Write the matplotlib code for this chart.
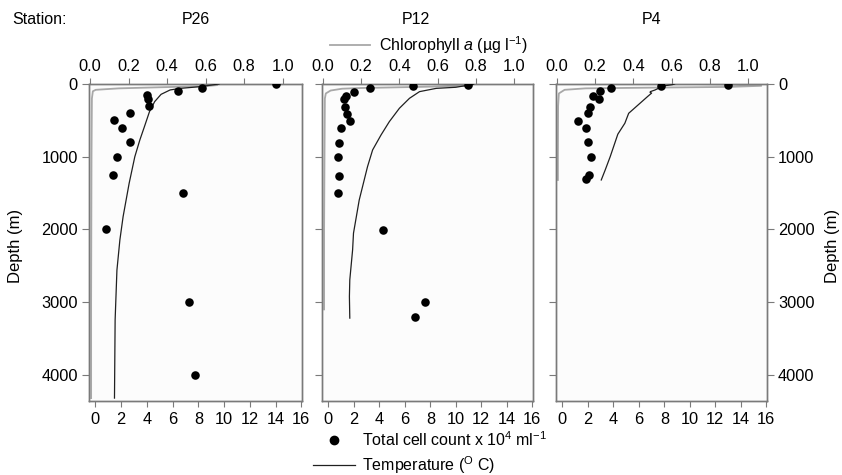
import matplotlib
matplotlib.use("Agg")
import matplotlib.pyplot as plt
from matplotlib.lines import Line2D

plt.rcParams['font.family'] = ['Liberation Sans', 'DejaVu Sans']
plt.rcParams['mathtext.fontset'] = 'custom'
plt.rcParams['mathtext.rm'] = 'Liberation Sans'
plt.rcParams['mathtext.it'] = 'Liberation Sans:italic'
plt.rcParams['font.size'] = 11.5

stations = ["P26", "P12", "P4"]

# ---- P26 ----
p26_cell_depth = [0, 50, 100, 150, 200, 300, 400, 500, 600, 800, 1000, 1250, 1500, 2000, 3000, 4000]
p26_cell = [14.05, 8.3, 6.45, 4.0, 4.08, 4.2, 2.67, 1.45, 2.07, 2.67, 1.64, 1.37, 6.83, 0.83, 7.27, 7.76]
p26_temp_depth = [0, 5, 37, 60, 82, 142, 243, 380, 590, 770, 1000, 1365, 1824, 2144, 2560, 3245, 4320]
p26_temp = [9.6, 9.4, 8.1, 6.6, 5.8, 5.1, 4.6, 4.2, 3.8, 3.45, 3.06, 2.62, 2.15, 1.9, 1.67, 1.53, 1.48]
p26_chl_depth = [0, 15, 30, 45, 60, 80, 100, 200, 1000, 2000, 3000, 4320]
p26_chl = [0.6, 0.66, 0.6, 0.36, 0.15, 0.03, 0.015, 0.01, 0.008, 0.007, 0.006, 0.006]

# ---- P12 ----
p12_cell_depth = [20, 25, 55, 105, 160, 205, 310, 410, 510, 610, 815, 1010, 1260, 1500, 2005, 3005, 3205]
p12_cell = [10.95, 6.67, 3.29, 2.02, 1.37, 1.24, 1.29, 1.5, 1.68, 0.97, 0.84, 0.76, 0.84, 0.79, 4.26, 7.6, 6.8]
p12_temp_depth = [0, 5, 45, 60, 105, 197, 334, 518, 701, 907, 1137, 1595, 2052, 2282, 2694, 2923, 3220]
p12_temp = [11.4, 11.35, 10.0, 8.46, 7.15, 6.36, 5.57, 4.78, 4.13, 3.47, 3.07, 2.42, 1.97, 1.9, 1.68, 1.65, 1.68]
p12_chl_depth = [0, 10, 25, 40, 55, 65, 90, 130, 200, 1000, 2000, 3100]
p12_chl = [0.55, 0.7, 0.78, 0.5, 0.2, 0.1, 0.04, 0.015, 0.01, 0.008, 0.006, 0.006]

# ---- P4 ----
p4_cell_depth = [10, 25, 60, 100, 160, 205, 310, 405, 505, 600, 800, 1000, 1250, 1300]
p4_cell = [13.0, 7.71, 3.83, 2.92, 2.37, 2.89, 2.13, 1.98, 1.2, 1.88, 1.98, 2.27, 2.11, 1.88]
p4_temp_depth = [0, 10, 23, 60, 82, 105, 115, 125, 170, 243, 403, 540, 690, 1000, 1182, 1320]
p4_temp = [8.8, 8.6, 8.05, 7.53, 7.27, 6.9, 6.88, 7.0, 6.7, 6.23, 5.2, 4.9, 4.35, 3.75, 3.36, 3.05]
p4_chl_depth = [0, 10, 25, 40, 50, 60, 80, 130, 300, 1000, 1320]
p4_chl = [0.7, 0.95, 1.07, 0.9, 0.5, 0.15, 0.04, 0.01, 0.006, 0.005, 0.005]

data = [
    (p26_cell_depth, p26_cell, p26_temp_depth, p26_temp, p26_chl_depth, p26_chl),
    (p12_cell_depth, p12_cell, p12_temp_depth, p12_temp, p12_chl_depth, p12_chl),
    (p4_cell_depth, p4_cell, p4_temp_depth, p4_temp, p4_chl_depth, p4_chl),
]

bottom_ticks = [0, 2, 4, 6, 8, 10, 12, 14, 16]
top_ticks = [0.0, 0.2, 0.4, 0.6, 0.8, 1.0]
depth_ticks = [0, 1000, 2000, 3000, 4000]

W, H = 842, 475
fig = plt.figure(figsize=(W / 100, H / 100), dpi=100)

lefts = [89, 322, 556]
widths = [213, 211, 211]
top_px, bot_px = 84, 401
spine_col = '#7a7a7a'
chl_col = '#a8a8a8'
temp_col = '#202020'
TS = 11.8

for i, (cd, cv, td, tv, chd, chv) in enumerate(data):
    ax = fig.add_axes([lefts[i] / W, 1 - bot_px / H, widths[i] / W, (bot_px - top_px) / H])
    ax.set_ylim(4360, 0)
    ax.set_xlim(-0.5, 16.05)
    ax.set_xticks(bottom_ticks)
    ax.set_yticks(depth_ticks)
    for s in ax.spines.values():
        s.set_color(spine_col)
        s.set_linewidth(1.0)

    ax2 = ax.twiny()
    ax2.set_xlim(-0.005, 1.1)
    ax2.set_xticks(top_ticks)
    ax2.set_xticklabels([f"{t:.1f}" for t in top_ticks])
    for s in ax2.spines.values():
        s.set_color(spine_col)
        s.set_linewidth(1.0)

    ax2.plot(chv, chd, color=chl_col, lw=1.3, zorder=2)
    ax.plot(tv, td, color=temp_col, lw=0.9, zorder=3)
    ax.scatter(cv, cd, s=38, color='black', zorder=4, linewidths=0)
    ax.set_zorder(ax2.get_zorder() + 1)
    ax.patch.set_visible(False)
    ax2.patch.set_visible(True)
    ax2.patch.set_facecolor('#fcfcfc')

    ax.tick_params(axis='x', direction='out', length=4, color=spine_col, pad=4, labelsize=TS)
    ax2.tick_params(axis='x', direction='out', length=4, color=spine_col, pad=3, labelsize=TS)
    ax.tick_params(axis='y', direction='out', length=5, color=spine_col, labelsize=TS, pad=3)
    if i == 0:
        ax.tick_params(axis='y', left=True, labelleft=True, right=False)
    elif i == 1:
        ax.tick_params(axis='y', left=True, labelleft=False, right=False)
    else:
        ax.tick_params(axis='y', left=True, labelleft=False, right=True, labelright=True)

# axis titles for depth
fig.text(16 / W, 1 - 246 / H, 'Depth (m)', rotation=90, ha='center', va='center', fontsize=12)
fig.text(832 / W, 1 - 246 / H, 'Depth (m)', rotation=90, ha='center', va='center', fontsize=12)

# station labels
fig.text(12 / W, 1 - 19 / H, 'Station:', ha='left', va='center', fontsize=11.5)
for name, xc in zip(stations, [196, 416, 652]):
    fig.text(xc / W, 1 - 19 / H, name, ha='center', va='center', fontsize=11.5)

# top legend
h_chl = Line2D([], [], color=chl_col, lw=1.3)
fig.legend([h_chl], [r'Chlorophyll $\it{a}$ (µg l$^{\mathregular{-1}}$)'],
           loc='center left', bbox_to_anchor=(330 / W, 1 - 45 / H),
           frameon=False, borderpad=0, borderaxespad=0, handlelength=2.5,
           handletextpad=0.55, fontsize=11.5)

# bottom legend
h_cell = Line2D([], [], color='black', marker='o', ls='none', markersize=6)
h_temp = Line2D([], [], color=temp_col, lw=0.9)
fig.legend([h_cell, h_temp],
           [r'Total cell count x 10$^{\mathregular{4}}$ ml$^{\mathregular{-1}}$',
            r'Temperature ($^{\mathregular{O}}$ C)'],
           loc='upper left', bbox_to_anchor=(313 / W, 1 - 430 / H),
           frameon=False, borderpad=0, borderaxespad=0, handlelength=2.6,
           handletextpad=0.45, labelspacing=0.35, fontsize=11.5)

fig.savefig('out.png', dpi=100)
